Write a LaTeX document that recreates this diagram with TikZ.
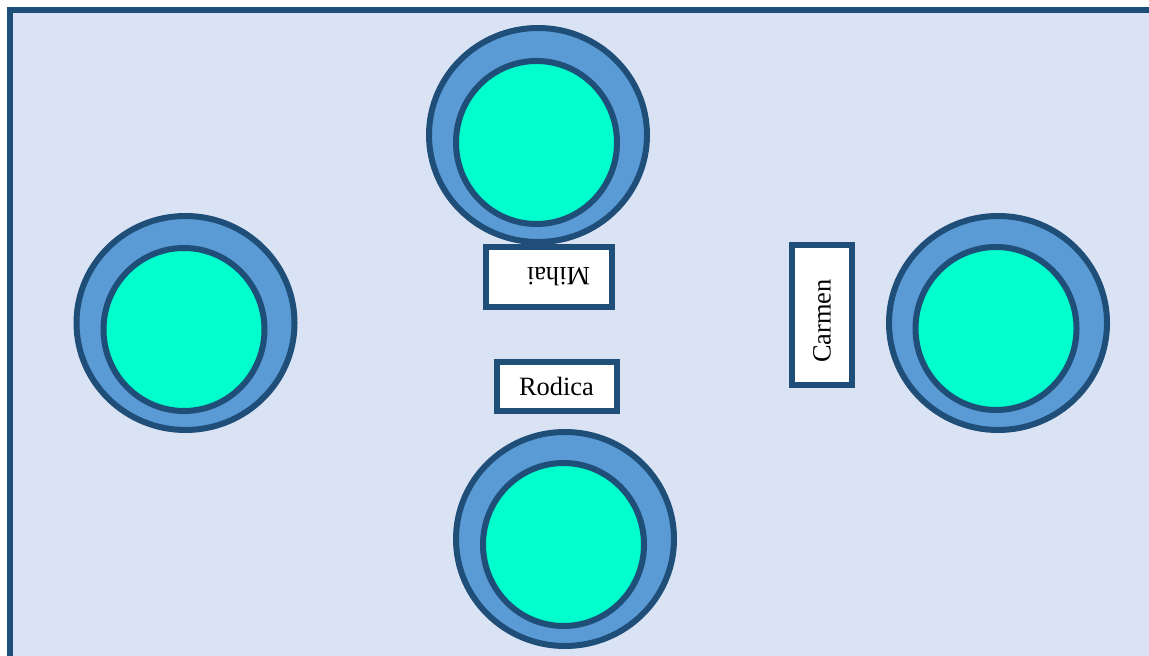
\documentclass[tikz,border=0pt]{standalone}
\usepackage{fontspec}
\setmainfont{Liberation Serif}
\usepackage{tikz}
\definecolor{frameblue}{HTML}{1F4E79}
\definecolor{ringblue}{HTML}{5B9BD5}
\definecolor{seatgreen}{HTML}{00FFCC}
\definecolor{roomblue}{HTML}{DAE3F3}
\tikzset{
	ring/.style={line width=3pt, draw=frameblue, fill=ringblue},
	seat/.style={line width=3pt, draw=frameblue, fill=seatgreen},
	namecard/.style={draw=frameblue, line width=2.8pt, fill=white, inner xsep=0pt, align=left, font=\fontsize{13.2pt}{15pt}\selectfont}
}

\begin{document}
\begin{tikzpicture}[x=0.5pt, y=-0.5pt]
		%%%%% START %%%%%
		\useasboundingbox (0, 0) rectangle (1149, 656);
		
		\draw[line width=3pt, color=frameblue, fill=roomblue] (9.7, 9.7) rectangle (1175, 680);
		
		\draw[ring] (538, 135) ellipse (54.5pt and 53.5pt);
		\draw[seat] (536.5, 142.5) ellipse (40.25pt and 40.75pt);
		
		\draw[ring] (185.5, 323) ellipse (54.5pt and 53.5pt);
		\draw[seat] (184, 329.5) ellipse (40.25pt and 40.75pt);
		
		\draw[ring] (998, 323) ellipse (54.5pt and 53.5pt);
		\draw[seat] (996, 328.5) ellipse (40.25pt and 40.75pt);
		
		\draw[ring] (565, 539) ellipse (54.5pt and 53.5pt);
		\draw[seat] (563.5, 544.5) ellipse (40.25pt and 40.75pt);
		
		\node[namecard, rotate=180, minimum width=63pt, minimum height=30pt, text width=41pt] (mihai) at (549, 277) {Mihai};
		\node[namecard, minimum width=60pt, minimum height=24.5pt, text width=38pt] (rodica) at (557, 386.5) {Rodica};
		\node[namecard, rotate=90, minimum width=70pt, minimum height=30pt, text width=48pt] (carmen) at (822, 315) {Carmen};
		
		%%%%% END %%%%%
	\end{tikzpicture}
\end{document}
